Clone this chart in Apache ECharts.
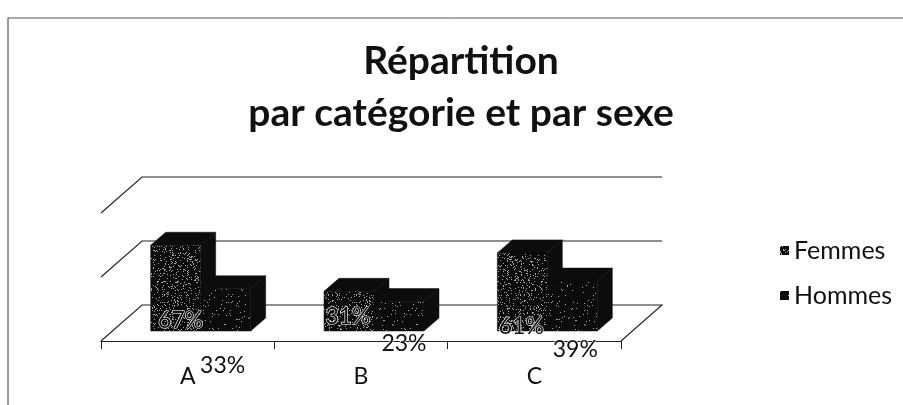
<!DOCTYPE html>
<html lang="fr">
<head>
  <meta charset="UTF-8">
  <title>Répartition par catégorie et par sexe</title>
  <script src="https://cdn.jsdelivr.net/npm/echarts@6/dist/echarts.min.js"></script>
  <style>
    html, body { margin: 0; background: #fff; }
    #chart { width: 903px; height: 405px; }
  </style>
</head>
<body>
  <div id="chart"></div>
  <script>
    // values
    const categories = ['A', 'B', 'C'];
    const femmes = [67, 31, 61];
    const hommes = [33, 23, 39];
    const gridValues = [0, 50, 100];

    // label placement, px relative to the bar's front centre / floor
    const femmesLabelPos = [[5, -10], [-1, -14], [-1, -4]];
    const hommesLabelPos = [[-3, 35], [5, 13], [3, 19]];

    const floorDepth = [41, -36];
    const barInset = [13, -10];
    const barDepth = [15, -13];
    const barWidth = 50;
    const font = 'Lato, "Open Sans", sans-serif';

    // scanned-looking stipple for the bar fronts
    function stipple(amount) {
      const c = document.createElement('canvas');
      c.width = c.height = 64;
      const ctx = c.getContext('2d');
      ctx.fillStyle = '#0c0c0c';
      ctx.fillRect(0, 0, 64, 64);
      ctx.fillStyle = '#a8a8a8';
      for (let y = 0; y < 64; y++) {
        for (let x = 0; x < 64; x++) {
          const h = Math.abs(Math.sin(x * 12.9898 + y * 78.233) * 43758.5453) % 1;
          if (h < amount) ctx.fillRect(x, y, 1, 1);
        }
      }
      return c;
    }
    const femmesFill = { image: stipple(0.11), repeat: 'repeat' };
    const hommesFill = { image: stipple(0.025), repeat: 'repeat' };

    function poly(points, fill) {
      return {
        type: 'polygon',
        shape: { points: points },
        style: { fill: fill, stroke: '#0c0c0c', lineWidth: 0.5 }
      };
    }

    function barRenderer(side, fill, labelPos) {
      return function (params, api) {
        const idx = api.value(0);
        const val = api.value(1);
        const floorX = api.coord([idx, 0])[0] + barInset[0];
        const base = api.coord([idx, 0])[1] + barInset[1];
        const top = base - (api.coord([idx, 0])[1] - api.coord([idx, val])[1]);
        const x0 = side < 0 ? floorX - barWidth : floorX;
        const x1 = x0 + barWidth;
        const dx = barDepth[0], dy = barDepth[1];
        const pos = labelPos[params.dataIndex];
        return {
          type: 'group',
          children: [
            poly([[x1, base], [x1 + dx, base + dy], [x1 + dx, top + dy], [x1, top]], '#0c0c0c'),
            poly([[x0, top], [x0 + dx, top + dy], [x1 + dx, top + dy], [x1, top]], '#0c0c0c'),
            poly([[x0, base], [x1, base], [x1, top], [x0, top]], fill),
            {
              type: 'text',
              z2: 100,
              style: {
                x: x0 + barWidth / 2 + pos[0],
                y: base + pos[1],
                text: val + '%',
                font: '23px ' + font,
                fill: '#111',
                stroke: '#fff',
                lineWidth: 1.2,
                align: 'center',
                verticalAlign: 'middle'
              }
            }
          ]
        };
      };
    }

    function wallRenderer(params, api) {
      const left = params.coordSys.x;
      const right = left + params.coordSys.width;
      const y = api.coord([0, api.value(1)])[1];
      const back = [left + floorDepth[0], y + floorDepth[1]];
      const pts = [[left, y], back, [right + floorDepth[0], back[1]]];
      if (api.value(1) === 0) pts.push([right, y]);
      return {
        type: 'polyline',
        shape: { points: pts },
        style: { fill: 'none', stroke: '#222', lineWidth: 1.1 }
      };
    }

    const chart = echarts.init(document.getElementById('chart'));
    chart.setOption({
      animation: false,
      backgroundColor: '#fff',
      title: {
        text: 'Répartition\npar catégorie et par sexe',
        left: 456,
        top: 30,
        textAlign: 'center',
        textStyle: { fontFamily: font, fontWeight: 'bold', fontSize: 39, lineHeight: 52, color: '#111' }
      },
      legend: {
        data: ['Femmes', 'Hommes'],
        orient: 'vertical',
        left: 775,
        top: 233,
        icon: 'rect',
        itemWidth: 9,
        itemHeight: 9,
        itemGap: 20,
        textStyle: { fontFamily: font, fontSize: 25, color: '#111' }
      },
      grid: { left: 101, top: 213, width: 520, height: 128 },
      xAxis: {
        type: 'category',
        data: categories,
        axisLine: { lineStyle: { color: '#222', width: 1.2 } },
        axisTick: { show: true, length: 8, lineStyle: { color: '#222' } },
        axisLabel: { margin: 24, fontFamily: font, fontSize: 23, color: '#111' }
      },
      yAxis: {
        type: 'value',
        min: 0,
        max: 100,
        interval: 50,
        show: false,
        splitLine: { show: false }
      },
      series: [
        {
          name: 'parois',
          type: 'custom',
          z: 1,
          silent: true,
          renderItem: wallRenderer,
          data: gridValues.map(v => [0, v])
        },
        {
          name: 'Femmes',
          type: 'custom',
          z: 2,
          itemStyle: { color: femmesFill },
          renderItem: barRenderer(-1, femmesFill, femmesLabelPos),
          data: femmes.map((v, i) => [i, v])
        },
        {
          name: 'Hommes',
          type: 'custom',
          z: 2,
          itemStyle: { color: hommesFill },
          renderItem: barRenderer(1, hommesFill, hommesLabelPos),
          data: hommes.map((v, i) => [i, v])
        }
      ],
      graphic: [
        { type: 'line', shape: { x1: 8, y1: 18, x2: 903, y2: 18 }, style: { stroke: '#555', lineWidth: 1 } },
        { type: 'line', shape: { x1: 8, y1: 18, x2: 8, y2: 405 }, style: { stroke: '#333', lineWidth: 1 } }
      ]
    });
  </script>
</body>
</html>
